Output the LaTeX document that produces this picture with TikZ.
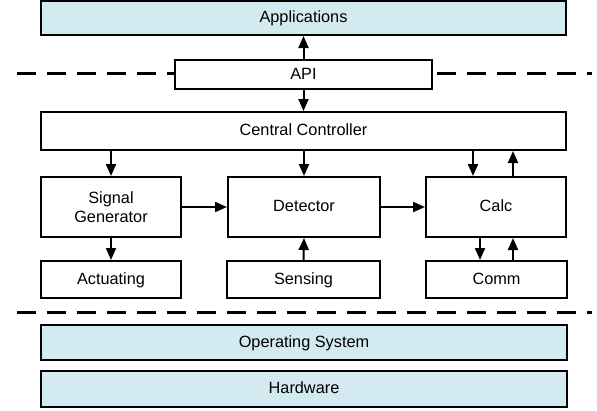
\documentclass[tikz,border=0pt]{standalone}
\usepackage{fontspec}
\setmainfont{Liberation Sans}
\usetikzlibrary{arrows.meta}
\definecolor{layerblue}{HTML}{D3EAF0}
\tikzset{
  box/.style={draw=black, line width=2pt, fill=white, inner sep=0pt, align=center,
    font=\fontsize{16.3}{19.6}\selectfont},
  oneline/.style={text height=11.7pt, text depth=2pt},
  layer/.style={box, oneline, fill=layerblue},
  arr/.style={line width=2pt, -{Triangle[length=12pt,width=10pt]}},
  sep/.style={line width=3pt, dash pattern=on 19pt off 11pt},
}
\begin{document}
\begin{tikzpicture}[x=1pt,y=-1pt]
\useasboundingbox (0,0) rectangle (597,410);
% separators
\coordinate (s1a) at (17,73);
\coordinate (s1b) at (592,73);
\coordinate (s2a) at (17,312);
\coordinate (s2b) at (592,312);
\draw[sep] (s1a) -- (s1b);
\draw[sep] (s2a) -- (s2b);
% boxes
\node[layer, minimum width=525pt, minimum height=34pt] (apps) at (303.5,18) {Applications};
\node[box, oneline, minimum width=257pt, minimum height=29pt] (api) at (303.5,74.5) {API};
\node[box, oneline, minimum width=525pt, minimum height=38pt] (cc) at (303.5,131) {Central Controller};
\node[box, minimum width=140pt, minimum height=60pt] (sg) at (111,207) {Signal\\Generator};
\node[box, oneline, minimum width=152pt, minimum height=60pt] (det) at (304,207) {Detector};
\node[box, oneline, minimum width=140pt, minimum height=60pt] (calc) at (496,207) {Calc};
\node[box, oneline, minimum width=140pt, minimum height=37pt] (act) at (111,279.5) {Actuating};
\node[box, oneline, minimum width=153pt, minimum height=37pt] (sen) at (303.5,279.5) {Sensing};
\node[box, oneline, minimum width=141pt, minimum height=37pt] (comm) at (496.5,279.5) {Comm};
\node[layer, minimum width=526pt, minimum height=35pt] (os) at (304,342.5) {Operating System};
\node[layer, minimum width=526pt, minimum height=36pt] (hw) at (304,389) {Hardware};
% connectors
\draw[arr] (api.north) -- (apps.south);
\draw[arr] (api.south) -- (cc.north);
\draw[arr] (cc.south -| sg.north) -- (sg.north);
\draw[arr] (cc.south -| det.north) -- (det.north);
\draw[arr] ([xshift=-23pt]calc.north |- cc.south) -- ([xshift=-23pt]calc.north);
\draw[arr] ([xshift=17pt]calc.north) -- ([xshift=17pt]calc.north |- cc.south);
\draw[arr] (sg.east) -- (det.west);
\draw[arr] (det.east) -- (calc.west);
\draw[arr] (sg.south) -- (act.north);
\draw[arr] (sen.north) -- (det.south);
\draw[arr] ([xshift=-16pt]calc.south) -- ([xshift=-16pt]calc.south |- comm.north);
\draw[arr] ([xshift=17pt]calc.south |- comm.north) -- ([xshift=17pt]calc.south);
\end{tikzpicture}
\end{document}
